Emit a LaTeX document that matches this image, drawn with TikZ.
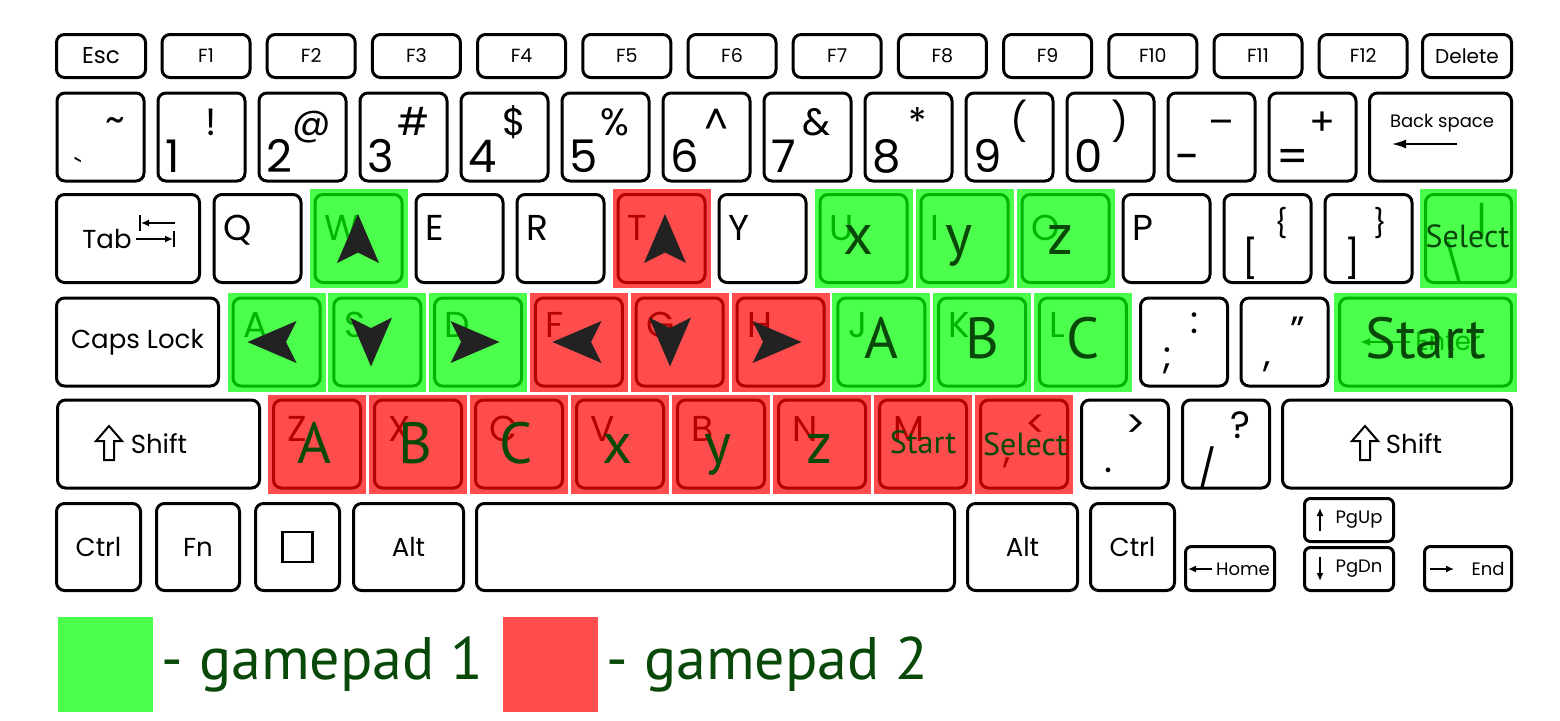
\documentclass[tikz,border=0pt]{standalone}
\usepackage{fontspec}
\setmainfont{Poppins}
\newfontfamily\padfont{PT Sans}
\usepackage{xcolor}
\usepackage{tikz}
\usetikzlibrary{calc, positioning, arrows.meta}

\definecolor{gpgreen}{RGB}{0,255,0}
\definecolor{gpred}{RGB}{255,0,0}
\definecolor{gptext}{RGB}{8,72,8}
\definecolor{arrowgray}{RGB}{34,34,34}

\tikzset{
  key/.style={draw, line width=3pt, rounded corners=8pt, fill=white, inner sep=0pt,
    minimum width=87, minimum height=88, font=\fontsize{26}{30}\selectfont},
  fkey/.style={key, minimum width=88, minimum height=43, font=\fontsize{19}{22}\selectfont},
  navkey/.style={key, minimum width=89, minimum height=43, rounded corners=6pt},
  keytext/.style={inner sep=0pt, font=\fontsize{26}{30}\selectfont},
  smalltext/.style={inner sep=0pt, font=\fontsize{18}{20}\selectfont},
  digit/.style={inner sep=0pt, anchor=base west, font=\fontsize{45}{48}\selectfont},
  symb/.style={inner sep=0pt, anchor=base, font=\fontsize{38}{42}\selectfont},
  letter/.style={inner sep=0pt, anchor=base west, font=\fontsize{36}{40}\selectfont},
  gp1/.style={fill=gpgreen, fill opacity=0.7},
  gp2/.style={fill=gpred, fill opacity=0.7},
  padlabel/.style={inner sep=0pt, anchor=base, text=gptext, font=\padfont\fontsize{58}{60}\selectfont},
  padsmall/.style={padlabel, font=\padfont\fontsize{32}{34}\selectfont},
  legendtext/.style={inner sep=0pt, text=gptext, font=\padfont\fontsize{60}{64}\selectfont},
  padarrow/.style={fill=arrowgray},
  keyarrow/.style={line width=1.5pt, -{Latex[length=8pt, width=7pt]}},
}

\begin{document}
\begin{tikzpicture}[x=1pt, y=-1pt]
    \useasboundingbox (0,0) rectangle (1560,720);
    \fill[white] (0,0) rectangle (1560,720);

    % Hàng phím chức năng
    \node[fkey, minimum width=89, font=\fontsize{23}{26}\selectfont] (esc) at (101,56) {Esc};
    \foreach \i in {1,...,12}
        \node[fkey] (f\i) at ({206+105.2*(\i-1)},56) {F\i};
    \node[fkey, minimum width=89, font=\fontsize{20}{24}\selectfont] (del) at (1467,56) {Delete};

    % Hàng số
    \node[key] (n0) at (100.5,137) {};
    \node[symb] (hi0) at (115,132) {\textasciitilde};
    \node[symb, font=\fontsize{30}{34}\selectfont] (lo0) at (78,180) {\textasciigrave};
    \foreach \lo/\hi [count=\i] in {1/!, 2/@, 3/\#, 4/\$, 5/\%, 6/{\textasciicircum}, 7/\&, 8/*, 9/{(}, 0/{)}, -/{\textendash}, =/+} {
        \node[key] (n\i) at ({100.5+101*\i},137) {};
        \node[digit] (lo\i) at ({64+101*\i},172) {\lo};
        \node[symb] (hi\i) at ({110+101*\i},135) {\hi};
    }
    \node[key, minimum width=142] (bksp) at (1440.5,137) {};
    \node[smalltext] (bksptext) at (1442,123) {Back space};
    \draw[line width=1.5pt, -{Latex[length=14pt, width=9pt]}] (1457,144) -- (1392,144);

    % Hàng QWERTY
    \node[key, minimum width=143] (tab) at (128,238.5) {};
    \node[keytext] (tabtext) at (107,239) {Tab};
    \draw[line width=1.5pt] (140,215) -- (140,231) (174,231) -- (174,247);
    \draw[keyarrow] (175,223) -- (141,223);
    \draw[keyarrow] (136,239) -- (173,239);
    \foreach \c [count=\i from 0] in {Q,W,E,R,T,Y,U,I,O,P} {
        \node[key] (key\c) at ({257.5+101*\i},238.5) {};
        \node[letter] (lab\c) at ({223+101*\i},240) {\c};
    }
    \node[key] (keylbr) at (1267.5,238.5) {};
    \node[symb, font=\fontsize{28}{32}\selectfont] (lbrhi) at (1281,233) {\{};
    \node[symb] (lbrlo) at (1251,272) {[};
    \node[key] (keyrbr) at (1368.5,238.5) {};
    \node[symb, font=\fontsize{28}{32}\selectfont] (rbrhi) at (1380,233) {\}};
    \node[symb] (rbrlo) at (1353,272) {]};
    \node[key, minimum width=86] (bslash) at (1468.5,238.5) {};
    \node[symb] (bslashhi) at (1482,233) {|};
    \node[symb] (bslashlo) at (1454,277) {\textbackslash};

    % Hàng ASDF
    \node[key, minimum width=162] (caps) at (137.5,342) {Caps Lock};
    \foreach \c [count=\i from 0] in {A,S,D,F,G,H,J,K,L} {
        \node[key] (key\c) at ({276.5+100.8*\i},342) {};
        \node[letter] (lab\c) at ({243+100.8*\i},337) {\c};
    }
    \node[key] (keysemi) at (1184,342) {};
    \node[symb] (semihi) at (1195,333) {:};
    \node[symb] (semilo) at (1167,368) {;};
    \node[key] (keyquote) at (1284.5,342) {};
    \node[symb] (quotehi) at (1298,343) {\textquotedblright};
    \node[symb] (quotelo) at (1267,366) {,};
    \node[key, minimum width=172] (enter) at (1425.5,342) {};
    \node[keytext] (entertext) at (1448,342) {Enter};
    \draw[line width=2pt, -{Latex[length=10pt, width=8pt]}] (1410,342) -- (1360,342);

    % Hàng ZXCV
    \node[key, minimum width=202] (lshift) at (158.5,444) {};
    \node[keytext] (lshifttext) at (159,444) {Shift};
    \node[key, minimum width=229] (rshift) at (1397,444) {};
    \node[keytext] (rshifttext) at (1414,444) {Shift};
    \foreach \sx in {109,1365}
        \draw[line width=2pt, shift={(\sx,443)}] (0,-17) -- (13,-2) -- (5,-2) -- (5,17) -- (-5,17) -- (-5,-2) -- (-13,-2) -- cycle;
    \foreach \c [count=\i from 0] in {Z,X,C,V,B,N,M} {
        \node[key] (key\c) at ({317+101*\i},444) {};
        \node[letter] (lab\c) at ({287+101*\i},441) {\c};
    }
    \node[key] (keycomma) at (1024,444) {};
    \node[symb] (commahi) at (1036,437) {<};
    \node[symb] (commalo) at (1007,462) {,};
    \node[key] (keyperiod) at (1125,444) {};
    \node[symb] (periodhi) at (1136,437) {>};
    \node[symb] (periodlo) at (1108,472) {.};
    \node[key] (keyslash) at (1226,444) {};
    \node[symb] (slashhi) at (1240,438) {?};
    \node[symb] (slashlo) at (1208,482) {/};

    % Hàng dưới cùng
    \node[key, minimum width=84, minimum height=87] (lctrl) at (98.5,547) {Ctrl};
    \node[key, minimum width=83, minimum height=87] (fn) at (198,547) {Fn};
    \node[key, minimum width=84, minimum height=87] (win) at (297.5,547) {};
    \node[draw, line width=2.5pt, minimum size=30, inner sep=0pt] (winsq) at (win) {};
    \node[key, minimum width=110, minimum height=87] (lalt) at (408.5,547) {Alt};
    \node[key, minimum width=478, minimum height=87] (space) at (715.5,547) {};
    \node[key, minimum width=110, minimum height=87] (ralt) at (1022.5,547) {Alt};
    \node[key, minimum width=84, minimum height=87] (rctrl) at (1132.5,547) {Ctrl};
    \node[navkey, minimum height=44] (home) at (1230,568.5) {};
    \node[smalltext] (hometext) at (1243,569) {Home};
    \draw[keyarrow] (1212,569) -- (1188,569);
    \node[navkey] (pgup) at (1349,520) {};
    \node[smalltext] (pguptext) at (1359,520) {PgUp};
    \draw[keyarrow] (1320,531) -- (1320,508);
    \node[navkey] (pgdn) at (1349,569) {};
    \node[smalltext] (pgdntext) at (1359,569) {PgDn};
    \draw[keyarrow] (1320,557) -- (1320,581);
    \node[navkey, minimum width=87, minimum height=44] (endkey) at (1468,568.5) {};
    \node[smalltext] (endtext) at (1488,569) {End};
    \draw[keyarrow] (1430,569) -- (1454,569);

    % Tô màu phím gamepad
    \foreach \k in {keyW, keyA, keyS, keyD, keyU, keyI, keyO, keyJ, keyK, keyL, bslash, enter}
        \fill[gp1] ($(\k.north west)+(-4,-4)$) rectangle ($(\k.south east)+(4,4)$);
    \foreach \k in {keyT, keyF, keyG, keyH, keyZ, keyX, keyC, keyV, keyB, keyN, keyM, keycomma}
        \fill[gp2] ($(\k.north west)+(-4,-4)$) rectangle ($(\k.south east)+(4,4)$);

    % Mũi tên
    \foreach \ax/\ay/\rot in {358/238.5/0, 665/238.5/0, 272/342/90, 371/342/180, 475/342/-90, 577/342/90, 670/342/180, 777/342/-90}
        \fill[padarrow, shift={(\ax,\ay)}, rotate=\rot] (0,-24.5) -- (21,24.5) -- (0,14) -- (-21,24.5) -- cycle;

    % Nhãn gamepad
    \foreach \t/\k in {x/U, y/I, z/O}
        \node[padlabel] (pad\k) at ($(key\k)+(-5,16)$) {\t};
    \foreach \t/\k in {A/J, B/K, C/L}
        \node[padlabel] (pad\k) at ($(key\k)+(0,16)$) {\t};
    \foreach \t/\k in {A/Z, B/X, C/C, x/V, y/B, z/N}
        \node[padlabel] (pad\k) at ($(key\k)+(-3,19)$) {\t};
    \node[padlabel] (padenter) at ($(enter)+(0,16)$) {Start};
    \node[padsmall] (padbslash) at ($(bslash)+(-1,9)$) {Select};
    \node[padsmall] (padM) at ($(keyM)+(0,9)$) {Start};
    \node[padsmall] (padcomma) at ($(keycomma)+(1,11)$) {Select};

    % Chú thích
    \node[gp1, minimum size=95, inner sep=0pt] (leg1) at (105.5,664.5) {};
    \node[legendtext, right=8pt of leg1] (leg1text) {- gamepad 1};
    \node[gp2, minimum size=95, inner sep=0pt] (leg2) at (550.5,664.5) {};
    \node[legendtext, right=8pt of leg2] (leg2text) {- gamepad 2};
\end{tikzpicture}
\end{document}
